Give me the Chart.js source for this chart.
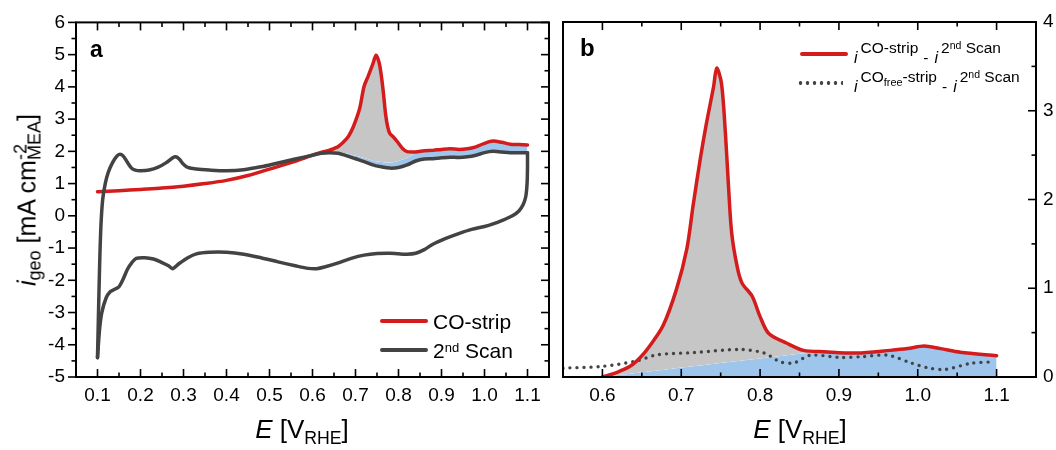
<!DOCTYPE html>
<html>
<head>
<meta charset="utf-8">
<script src="https://cdn.jsdelivr.net/npm/chart.js@4.4.1/dist/chart.umd.min.js"></script>
<style>
  html, body { margin: 0; padding: 0; background: #fff; }
  #wrap { position: relative; width: 1056px; height: 450px; overflow: hidden;
          font-family: 'Liberation Sans', Arial, sans-serif; color: #000; }
  canvas { position: absolute; top: 0; }
  .t { position: absolute; white-space: nowrap; line-height: 1; }
  .sp { position: relative; top: -0.5em; font-size: 0.72em; }
  .sb { position: relative; top: 0.3em; font-size: 0.72em; }
  .xt { font-size: 26px; }
  .xt .sb { top: 0.35em; font-size: 0.68em; }
  .lga { font-size: 21px; }
  .lga .sp { top: -0.45em; font-size: 0.62em; }
  .lgb { font-size: 15.5px; }
  .lgb i { font-size: 16px; }
  .lgb .up { position: relative; top: -0.62em; margin-left: 3px; }
  .lgb .nd { position: relative; top: -0.4em; font-size: 0.68em; }
  .lgb .fr { position: relative; top: 0.3em; font-size: 0.7em; }
  .lgb .dash { margin: 0 6px 0 5px; }
  .bar { position: absolute; height: 4px; border-radius: 2px; }
  .dots { position: absolute; height: 4px;
          background: radial-gradient(circle, #444 1.6px, rgba(0,0,0,0) 2.1px) 0 0 / 7px 4px repeat-x; }
</style>
</head>
<body>
<div id="wrap">
  <canvas id="ca" width="556" height="450" style="left:0"></canvas>
  <canvas id="cb" width="500" height="450" style="left:556px"></canvas>

  <div class="t" style="left:27px;top:200px;font-size:25px;transform:translate(-50%,-50%) rotate(-90deg)"><i>i</i><span class="sb">geo</span> [mA cm<span class="sp" style="margin-right:-16px">-2</span><span class="sb">MEA</span>]</div>
  <div class="t xt" style="left:302px;top:416px;transform:translateX(-50%)"><i>E</i> [V<span class="sb">RHE</span>]</div>
  <div class="t xt" style="left:800px;top:416px;transform:translateX(-50%)"><i>E</i> [V<span class="sb">RHE</span>]</div>

  <div class="t" style="left:90px;top:38px;font-size:23px;font-weight:bold">a</div>
  <div class="t" style="left:580px;top:36px;font-size:24px;font-weight:bold">b</div>

  <div class="bar" style="left:380px;top:319px;width:48px;background:#d41c1c"></div>
  <div class="t lga" style="left:433px;top:311px">CO-strip</div>
  <div class="bar" style="left:380px;top:348px;width:48px;background:#434343"></div>
  <div class="t lga" style="left:433px;top:340px">2<span class="sp">nd</span> Scan</div>

  <div class="bar" style="left:800px;top:52px;width:48px;background:#d41c1c"></div>
  <div class="t lgb" style="left:854px;top:50px"><i>i</i><span class="up">CO-strip</span><span class="dash">-</span><i>i</i><span class="up">2<span class="nd">nd</span> Scan</span></div>
  <div class="dots" style="left:797px;top:81px;width:46px"></div>
  <div class="t lgb" style="left:854px;top:79px"><i>i</i><span class="up">CO<span class="fr">free</span>-strip</span><span class="dash">-</span><i>i</i><span class="up">2<span class="nd">nd</span> Scan</span></div>
</div>

<script>
// panel a: CV in MEA, CO-strip vs 2nd scan
const stripE = [0.10,0.15,0.20,0.25,0.30,0.35,0.40,0.45,0.50,0.55,0.60,0.62,0.64,0.66,0.68,0.69,0.70,0.71,0.72,0.73,0.74,0.748,0.755,0.76,0.765,0.77,0.775,0.78,0.79,0.80,0.81,0.82,0.84,0.86,0.88,0.90,0.92,0.94,0.96,0.98,1.00,1.02,1.04,1.06,1.08,1.10];
const stripI = [0.75,0.78,0.82,0.86,0.92,1.00,1.10,1.25,1.45,1.65,1.88,1.97,2.04,2.15,2.40,2.62,2.94,3.35,4.02,4.35,4.70,4.98,4.75,4.35,3.80,3.15,2.75,2.55,2.42,2.25,2.08,1.99,1.98,2.02,2.03,2.06,2.08,2.06,2.08,2.14,2.25,2.32,2.28,2.22,2.21,2.20];

const scanUpE = [0.100,0.102,0.105,0.108,0.112,0.118,0.125,0.135,0.145,0.152,0.16,0.17,0.18,0.19,0.20,0.22,0.24,0.26,0.275,0.282,0.29,0.30,0.31,0.33,0.36,0.40,0.44,0.48,0.52,0.56,0.60,0.62,0.64,0.66,0.68,0.70,0.72,0.74,0.76,0.78,0.80,0.82,0.84,0.86,0.88,0.90,0.92,0.94,0.96,0.98,1.00,1.02,1.04,1.06,1.08,1.10];
const scanUpI = [-4.40,-3.20,-1.50,-0.30,0.50,1.00,1.35,1.65,1.85,1.91,1.85,1.65,1.47,1.41,1.40,1.42,1.50,1.65,1.80,1.83,1.76,1.60,1.50,1.45,1.42,1.40,1.43,1.52,1.64,1.76,1.88,1.94,1.96,1.94,1.86,1.77,1.68,1.58,1.52,1.48,1.50,1.58,1.70,1.76,1.77,1.80,1.82,1.81,1.83,1.88,1.96,2.00,1.98,1.96,1.96,1.96];

const scanDownE = [1.100,1.100,1.099,1.096,1.090,1.080,1.065,1.04,1.02,1.00,0.97,0.94,0.91,0.88,0.86,0.84,0.82,0.80,0.78,0.75,0.72,0.69,0.66,0.63,0.61,0.59,0.56,0.52,0.48,0.44,0.40,0.36,0.33,0.31,0.29,0.275,0.265,0.25,0.23,0.21,0.19,0.18,0.17,0.16,0.15,0.14,0.13,0.12,0.11,0.105,0.100];
const scanDownI = [1.96,1.50,1.00,0.60,0.35,0.15,0.00,-0.15,-0.25,-0.33,-0.42,-0.55,-0.70,-0.88,-1.05,-1.16,-1.19,-1.18,-1.16,-1.17,-1.22,-1.32,-1.46,-1.58,-1.64,-1.63,-1.55,-1.43,-1.30,-1.19,-1.13,-1.13,-1.18,-1.30,-1.48,-1.64,-1.55,-1.45,-1.34,-1.30,-1.32,-1.45,-1.65,-1.95,-2.20,-2.28,-2.35,-2.55,-3.00,-3.50,-4.40];

// top of the blue band (2nd scan + baseline), panel a
const aBlueE = [0.62,0.64,0.66,0.68,0.70,0.72,0.74,0.76,0.78,0.80,0.82,0.84,0.86,0.88,0.90,0.92,0.94,0.96,0.98,1.00,1.02,1.04,1.06,1.08,1.10];
const aBlueI = [1.94,1.98,1.98,1.93,1.86,1.79,1.71,1.67,1.65,1.70,1.80,1.94,2.02,2.03,2.06,2.08,2.06,2.08,2.14,2.25,2.32,2.28,2.22,2.21,2.20];

// panel b: difference curves
const diffE = [0.600,0.618,0.635,0.648,0.660,0.677,0.694,0.707,0.715,0.724,0.732,0.741,0.745,0.751,0.756,0.760,0.764,0.771,0.777,0.790,0.800,0.811,0.834,0.855,0.881,0.923,0.965,0.987,1.008,1.029,1.054,1.100];
const diffI = [0.00,0.05,0.12,0.22,0.35,0.58,0.99,1.44,1.93,2.45,2.86,3.27,3.48,3.31,2.75,2.14,1.62,1.24,1.06,0.91,0.68,0.49,0.38,0.30,0.285,0.27,0.30,0.32,0.35,0.32,0.28,0.24];

const freeE = [0.55,0.60,0.643,0.669,0.716,0.775,0.805,0.826,0.843,0.864,0.902,0.93,0.962,0.991,1.012,1.034,1.068,1.093];
const freeI = [0.10,0.12,0.18,0.25,0.275,0.31,0.27,0.17,0.16,0.245,0.22,0.23,0.245,0.16,0.105,0.085,0.155,0.17];

const bBlueE = [0.60,0.86,0.881,0.923,0.965,0.987,1.008,1.029,1.054,1.100];
const bBlueI = [0.00,0.27,0.285,0.27,0.30,0.32,0.35,0.32,0.28,0.24];

// ticks
const aTicksE = [0.1,0.2,0.3,0.4,0.5,0.6,0.7,0.8,0.9,1.0,1.1];
const aMinorE = [0.15,0.25,0.35,0.45,0.55,0.65,0.75,0.85,0.95,1.05];
const aTicksI = [-5,-4,-3,-2,-1,0,1,2,3,4,5,6];
const aMinorI = [-4.5,-3.5,-2.5,-1.5,-0.5,0.5,1.5,2.5,3.5,4.5,5.5];
const bTicksE = [0.6,0.7,0.8,0.9,1.0,1.1];
const bMinorE = [0.65,0.75,0.85,0.95,1.05];
const bTicksI = [0,1,2,3,4];
const bMinorI = [0.5,1.5,2.5,3.5];

const RED = '#d41c1c', GRAY = '#434343', FILLGRAY = '#c6c6c6', BLUE = '#9ec5ec';
const pts = (xs, ys) => xs.map((x, i) => ({ x: x, y: ys[i] }));
const font = { family: "'Liberation Sans', Arial, sans-serif", size: 19 };

// box + inward/outward tick marks
const frame = {
  id: 'frame',
  afterDatasetsDraw(chart, args, o) {
    const ctx = chart.ctx, a = chart.chartArea;
    const sx = chart.scales.x, sy = chart.scales.y;
    const seg = (x1, y1, x2, y2) => { ctx.beginPath(); ctx.moveTo(x1, y1); ctx.lineTo(x2, y2); ctx.stroke(); };
    ctx.save();
    ctx.strokeStyle = '#000';
    ctx.lineWidth = 1.6;
    [[o.xMajor, 8], [o.xMinor, 4.5]].forEach(([list, len]) => list.forEach(v => {
      const px = sx.getPixelForValue(v);
      seg(px, a.bottom, px, a.bottom - len);
      seg(px, a.top, px, a.top + len);
    }));
    [[o.yMajor, 8], [o.yMinor, 4.5]].forEach(([list, len]) => list.forEach(v => {
      const py = sy.getPixelForValue(v);
      if (o.leftOut) seg(a.left - len, py, a.left, py);
      seg(a.right - len, py, a.right, py);
    }));
    ctx.lineWidth = 2;
    ctx.strokeRect(a.left, a.top, a.right - a.left, a.bottom - a.top);
    ctx.restore();
  }
};

function axis(min, max, ticks, extra) {
  return Object.assign({
    type: 'linear', min: min, max: max,
    afterBuildTicks: s => { s.ticks = ticks.map(v => ({ value: v })); },
    grid: { display: false, drawTicks: false },
    border: { display: false },
    ticks: { font: font, color: '#000', autoSkip: false, maxRotation: 0 }
  }, extra);
}

function baseOptions(pad, scales, frameOpts) {
  return {
    responsive: false, animation: false, devicePixelRatio: 1,
    layout: { padding: pad },
    elements: {
      point: { radius: 0, hoverRadius: 0 },
      line: { tension: 0.3, borderWidth: 3.5, borderCapStyle: 'round', borderJoinStyle: 'round' }
    },
    plugins: {
      legend: { display: false }, tooltip: { enabled: false },
      filler: { drawTime: 'beforeDatasetsDraw' },
      frame: frameOpts
    },
    scales: scales
  };
}

const ax = axis(0.05, 1.15, aTicksE, { afterFit: s => { s.height = 73; } });
ax.ticks.padding = 7;
ax.ticks.callback = v => v.toFixed(1);
const ay = axis(-5, 6, aTicksI, { afterFit: s => { s.width = 76; } });
ay.ticks.padding = 11;

new Chart(document.getElementById('ca'), {
  type: 'line',
  data: { datasets: [
    { data: pts(scanUpE, scanUpI), borderColor: GRAY, fill: false },
    { data: pts(scanDownE, scanDownI), borderColor: GRAY, fill: false },
    { data: pts(stripE, stripI), borderColor: RED, fill: { target: 3, above: FILLGRAY, below: 'rgba(0,0,0,0)' } },
    { data: pts(aBlueE, aBlueI), borderWidth: 0, borderColor: 'rgba(0,0,0,0)', fill: { target: 0, above: BLUE, below: 'rgba(0,0,0,0)' } }
  ]},
  options: baseOptions({ top: 22, right: 7, left: 0, bottom: 0 }, { x: ax, y: ay },
    { xMajor: aTicksE, xMinor: aMinorE, yMajor: aTicksI, yMinor: aMinorI, leftOut: true }),
  plugins: [frame]
});

const bx = axis(0.55, 1.15, bTicksE, { afterFit: s => { s.height = 73; } });
bx.ticks.padding = 7;
bx.ticks.callback = v => v.toFixed(1);
const by = axis(0, 4, bTicksI, { position: 'right', afterFit: s => { s.width = 20; } });
by.ticks.padding = 7;

new Chart(document.getElementById('cb'), {
  type: 'line',
  data: { datasets: [
    { data: pts(diffE, diffI), borderColor: RED, fill: { target: 2, above: FILLGRAY, below: 'rgba(0,0,0,0)' } },
    { data: pts(freeE, freeI), borderColor: GRAY, borderWidth: 3.4, borderDash: [0, 7], fill: false },
    { data: pts(bBlueE, bBlueI), borderWidth: 0, borderColor: 'rgba(0,0,0,0)', fill: { target: 'origin', above: BLUE, below: BLUE } }
  ]},
  options: baseOptions({ top: 22, right: 0, left: 7, bottom: 0 }, { x: bx, y: by },
    { xMajor: bTicksE, xMinor: bMinorE, yMajor: bTicksI, yMinor: bMinorI, leftOut: false }),
  plugins: [frame]
});
</script>
</body>
</html>
